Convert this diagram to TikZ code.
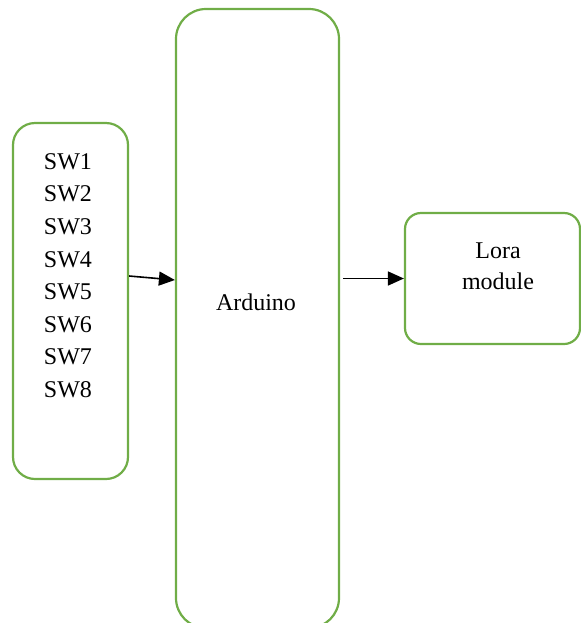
\documentclass[tikz,border=0pt]{standalone}
\usepackage{fontspec}
\setmainfont{Liberation Serif}
\usetikzlibrary{arrows.meta}
\definecolor{boxgreen}{HTML}{70AD47}

\begin{document}
\begin{tikzpicture}[x=0.5pt,y=-0.5pt,
    blockbox/.style={draw=boxgreen,line width=1.1pt,rounded corners=#1,inner sep=0pt},
    lbl/.style={inner sep=0pt,align=center,font=\fontsize{12}{16.3}\selectfont},
    conn/.style={line width=0.8pt,-{Triangle[length=8pt,width=7pt]}}]
  \useasboundingbox (0,0) rectangle (581,623);%

  \node[blockbox=11pt,minimum width=57.5pt,minimum height=178pt] (sw) at (70.5,301) {};%
  \node[blockbox=15pt,minimum width=81.5pt,minimum height=309.5pt] (ard) at (257.5,318.5) {};%
  \node[blockbox=8pt,minimum width=87.5pt,minimum height=65.5pt] (lora) at (492.5,278.5) {};%

  \node[lbl,anchor=north] (swtext) at (68,153) {SW1\\SW2\\SW3\\SW4\\SW5\\SW6\\SW7\\SW8};%
  \node[lbl,anchor=base] (ardtext) at (256,310) {Arduino};%
  \node[lbl,anchor=north,font=\fontsize{12}{15.5}\selectfont] (loratext) at (498,242) {Lora\\module};%

  \draw[conn] ([yshift=12.5pt]sw.east) -- ([yshift=19.25pt]ard.west);%
  \draw[conn,shorten <=1.5pt] (ard.east |- lora.west) -- (lora.west);%
\end{tikzpicture}
\end{document}
